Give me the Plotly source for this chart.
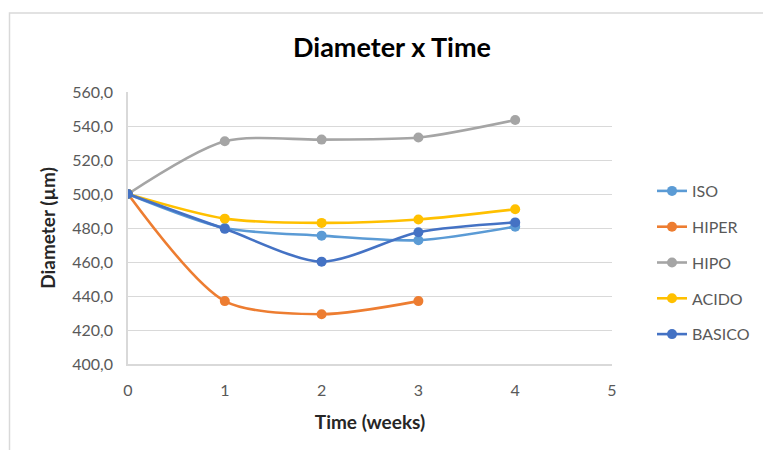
import plotly.graph_objects as go

weeks = [0, 1, 2, 3, 4]
iso = [500.0, 480.0, 475.5, 472.8, 480.8]
hiper = [500.0, 437.0, 429.3, 437.0]
hipo = [500.0, 531.0, 532.0, 533.2, 543.5]
acido = [500.0, 485.5, 483.0, 485.0, 491.0]
basico = [500.0, 479.5, 460.2, 477.5, 483.3]

series = [
    ("ISO", iso, "#5B9BD5"),
    ("HIPER", hiper, "#ED7D31"),
    ("HIPO", hipo, "#A5A5A5"),
    ("ACIDO", acido, "#FFC000"),
    ("BASICO", basico, "#4472C4"),
]

FONT = "Lato, 'Open Sans', sans-serif"
fig = go.Figure()
for name, vals, col in series:
    fig.add_trace(go.Scatter(
        x=weeks[:len(vals)], y=vals, name=name, mode="lines+markers",
        line=dict(color=col, width=2.6, shape="spline", smoothing=0.8),
        marker=dict(color=col, size=10),
        legendgroup=name,
    ))

L, R, T, B = 128, 612, 92, 364
W, H = 763, 450
MR = 1  # right margin of paper

def px(x):
    return (x - L) / (W - MR - L)

def py(y):
    return (B - y) / (B - T)

fig.add_shape(type="rect", xref="paper", yref="paper",
              x0=px(9.5), x1=px(775), y0=py(13), y1=py(460),
              line=dict(color="#d9d9d9", width=1.5), fillcolor="rgba(0,0,0,0)", layer="below")

fig.update_layout(
    width=W, height=H,
    margin=dict(l=L, r=MR, t=T, b=H - B, autoexpand=False),
    paper_bgcolor="white", plot_bgcolor="white",
    separators=", ",
    font=dict(family=FONT, color="#595959", size=16),
    title=dict(text="<b>Diameter x Time</b>", x=392 / W, xref="container", xanchor="center",
               y=1 - 48 / H, yref="container", yanchor="middle",
               font=dict(family=FONT, size=27, color="#000000")),
    showlegend=True,
    legend=dict(x=px(652), y=py(174), xanchor="left", yanchor="top",
                traceorder="grouped", tracegroupgap=12,
                font=dict(family=FONT, size=16, color="#595959"),
                itemwidth=30),
    xaxis=dict(domain=[0, px(R)], range=[0, 5], dtick=1, tick0=0, showgrid=False, showline=True,
               linecolor="#d9d9d9", linewidth=1.5, zeroline=False, ticks="",
               ticklabelstandoff=11,
               tickfont=dict(size=16, color="#595959"),
               title=dict(text="<b>Time (weeks)</b>", standoff=18,
                          font=dict(size=19, color="#262626"))),
    yaxis=dict(range=[400, 560], dtick=20, tickformat=".1f", showgrid=True,
               gridcolor="#d9d9d9", gridwidth=1.2, showline=True, linecolor="#d9d9d9",
               linewidth=1.5, zeroline=False, ticks="", ticklabelstandoff=10,
               tickfont=dict(size=16, color="#595959"),
               title=dict(text="<b>Diameter (µm)</b>", standoff=12,
                          font=dict(size=19, color="#262626"))),
)

fig.write_html("out.html")
